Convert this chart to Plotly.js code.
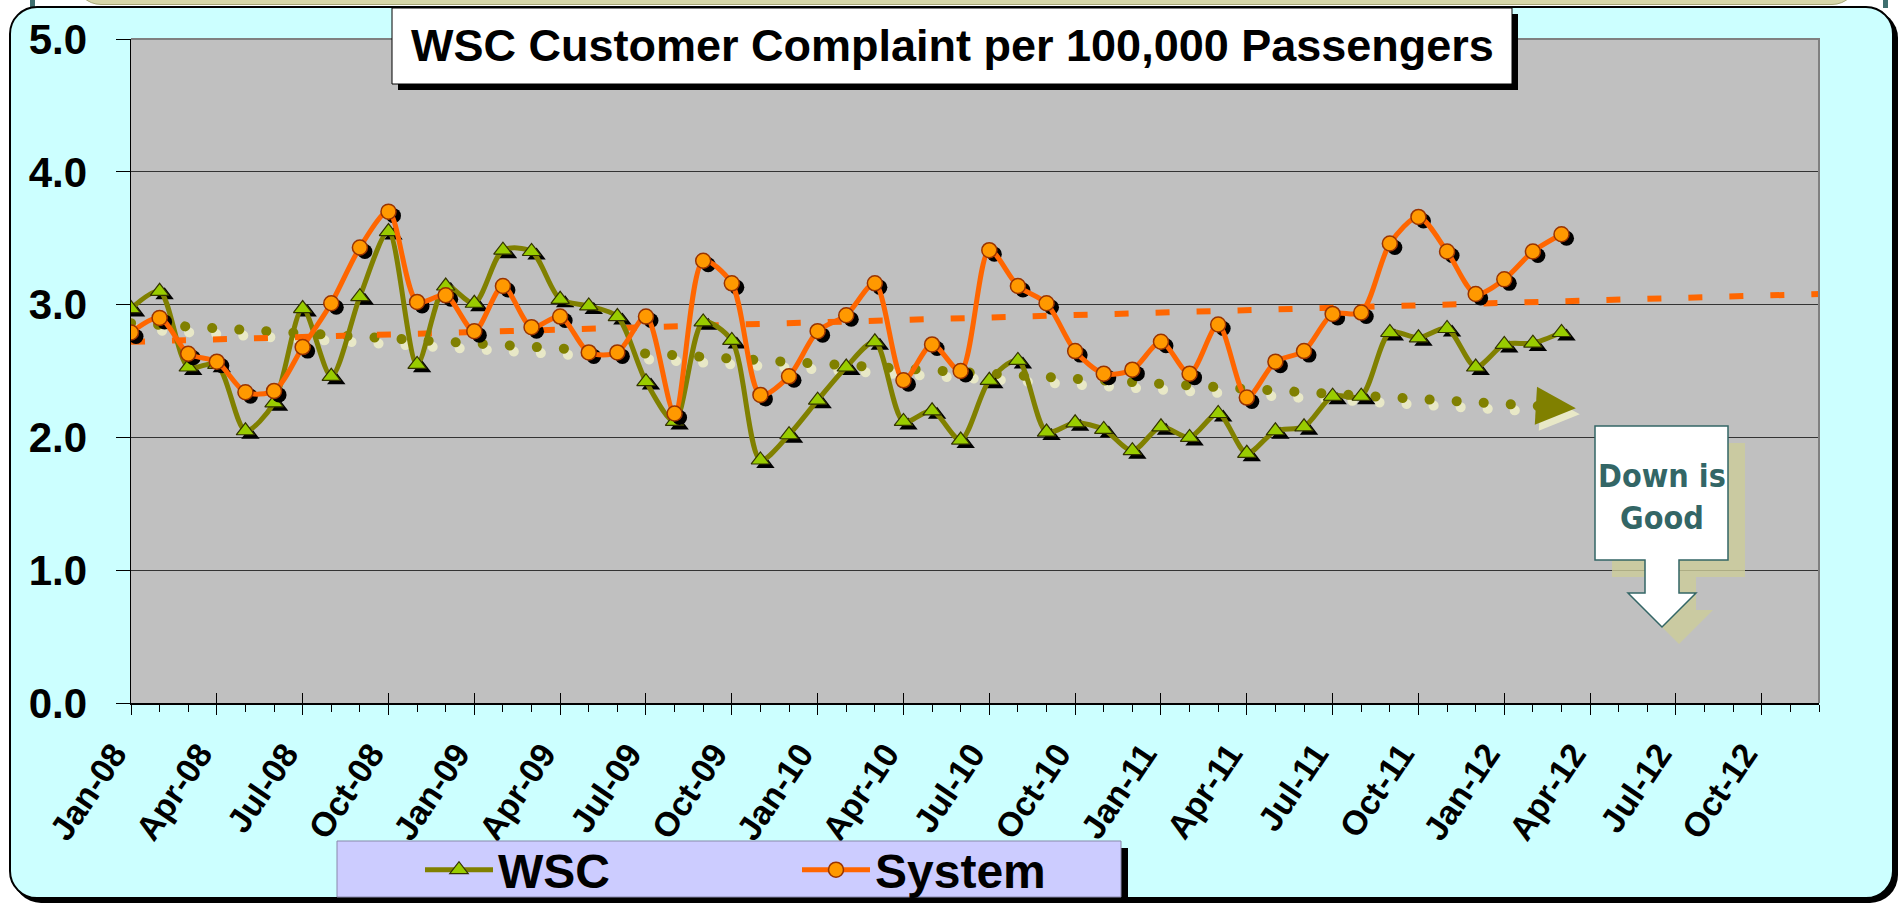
<!DOCTYPE html>
<html><head><meta charset="utf-8">
<script src="https://cdn.plot.ly/plotly-3.0.1.min.js"></script>
<style>
html,body{margin:0;padding:0;background:#fff;width:1901px;height:904px;overflow:hidden;}
#topbar{position:absolute;left:75px;top:-30px;width:1781px;height:33px;background:#D6D6A8;border:1px solid #A8A878;border-radius:0 0 26px 26px;}
#tealL{position:absolute;left:30px;top:0;width:5px;height:8px;background:#3F6F6F;}
#tealR{position:absolute;left:1883px;top:0;width:5px;height:8px;background:#3F6F6F;}
#frame{position:absolute;left:9px;top:6px;width:1881px;height:889px;background:#CCFFFF;border:2px solid #000;border-radius:28px;box-shadow:4px 4px 0 #000;}
#chart{position:absolute;left:0;top:0;width:1901px;height:904px;}
</style></head>
<body>
<div id="topbar"></div><div id="tealL"></div><div id="tealR"></div>
<div id="frame"></div>
<div id="chart"></div>
<script>
// ---- data ----
const months = ["Jan-08","Feb-08","Mar-08","Apr-08","May-08","Jun-08","Jul-08","Aug-08","Sep-08","Oct-08","Nov-08","Dec-08",
"Jan-09","Feb-09","Mar-09","Apr-09","May-09","Jun-09","Jul-09","Aug-09","Sep-09","Oct-09","Nov-09","Dec-09",
"Jan-10","Feb-10","Mar-10","Apr-10","May-10","Jun-10","Jul-10","Aug-10","Sep-10","Oct-10","Nov-10","Dec-10",
"Jan-11","Feb-11","Mar-11","Apr-11","May-11","Jun-11","Jul-11","Aug-11","Sep-11","Oct-11","Nov-11","Dec-11",
"Jan-12","Feb-12","Mar-12","Apr-12","May-12","Jun-12","Jul-12","Aug-12","Sep-12","Oct-12","Nov-12","Dec-12"];
const tickLabels = ["Jan-08","Apr-08","Jul-08","Oct-08","Jan-09","Apr-09","Jul-09","Oct-09","Jan-10","Apr-10","Jul-10","Oct-10",
"Jan-11","Apr-11","Jul-11","Oct-11","Jan-12","Apr-12","Jul-12","Oct-12"];
const wsc = [2.97,3.10,2.53,2.55,2.05,2.26,2.97,2.46,3.06,3.55,2.55,3.14,
3.01,3.41,3.40,3.04,2.99,2.91,2.42,2.12,2.87,2.73,1.83,2.02,
2.28,2.53,2.72,2.12,2.20,1.98,2.43,2.58,2.04,2.11,2.06,1.90,
2.08,2.00,2.18,1.88,2.05,2.08,2.31,2.31,2.79,2.75,2.82,2.53,
2.70,2.71,2.79];
const system = [2.79,2.90,2.63,2.57,2.34,2.35,2.68,3.01,3.43,3.70,3.02,3.07,
2.80,3.14,2.83,2.91,2.64,2.64,2.91,2.18,3.33,3.16,2.32,2.46,
2.80,2.92,3.16,2.43,2.70,2.50,3.41,3.14,3.01,2.65,2.48,2.51,
2.72,2.48,2.85,2.30,2.57,2.65,2.93,2.94,3.46,3.66,3.40,3.08,
3.19,3.40,3.53];
// trend lines (month index, value)
const wscTrendX = [0, 50.5];
const wscTrendY = [2.86, 2.22];
const sysTrendX = [0, 59];
const sysTrendY = [2.72, 3.08];

// ---- geometry ----
const W = 1901, H = 904;
const ML = 131, MR = 82, MT = 39, MB = 201;
const PW = W - ML - MR, PH = H - MT - MB;
const XMAX = months.length - 1;
const PXX = PW / XMAX, PXY = PH / 5;
const px = X => (X - ML) / PW;
const py = Y => (H - MB - Y) / PH;

const xData = wsc.map((_, i) => months.indexOf(months[i]));
const tickVals = tickLabels.map(t => months.indexOf(t));

const sdx = 5 / PXX, sdy = 4 / PXY;          // marker shadow offset
const tdx = 4 / PXX, tdy = 6 / PXY;          // trend shadow offset

// arrowhead for WSC trend
const tipX = wscTrendX[1], tipY = wscTrendY[1];
const vx = (wscTrendX[1] - wscTrendX[0]) * PXX, vy = -(wscTrendY[1] - wscTrendY[0]) * PXY;
const vl = Math.hypot(vx, vy), ux = vx / vl, uy = vy / vl;
const toData = (ox, oy) => [tipX + ox / PXX, tipY - oy / PXY];
const HL = 40, HW = 19;
const leftP = toData(-HL * ux - HW * uy, -HL * uy + HW * ux);
const rightP = toData(-HL * ux + HW * uy, -HL * uy - HW * ux);
const lineEnd = toData(-(HL - 4) * ux, -(HL - 4) * uy);
function triPath(dx, dy) {
  const p = [[tipX, tipY], leftP, rightP].map(q => (q[0] + dx) + ',' + (q[1] + dy));
  return 'M' + p[0] + ' L' + p[1] + ' L' + p[2] + ' Z';
}

function pathPx(pts) {
  return 'M' + pts.map(p => px(p[0]) + ',' + py(p[1])).join(' L') + ' Z';
}
const callout = [[1595,426],[1728,426],[1728,560],[1679,560],[1679,593],[1696,593],[1662,627],[1628,593],[1645,593],[1645,560],[1595,560]];
const calloutSh = callout.map(p => [p[0] + 17, p[1] + 17]);

const traces = [
  {x:[wscTrendX[0] + tdx, lineEnd[0] + tdx], y:[wscTrendY[0] - tdy, lineEnd[1] - tdy], mode:'lines', showlegend:false, hoverinfo:'skip',
   line:{color:'rgba(236,236,200,0.9)', width:10, dash:'0.1px,27px'}},
  {x:[wscTrendX[0], lineEnd[0]], y:[wscTrendY[0], lineEnd[1]], mode:'lines', showlegend:false, hoverinfo:'skip',
   line:{color:'#808000', width:10, dash:'0.1px,27px'}},
  {x:sysTrendX, y:sysTrendY, mode:'lines', showlegend:false, hoverinfo:'skip',
   line:{color:'#FF6600', width:6, dash:'14px,27px'}},
  {x:xData.map(v => v + sdx), y:wsc.map(v => v - sdy), mode:'markers', showlegend:false, hoverinfo:'skip',
   marker:{symbol:'triangle-up', size:16, color:'#000'}},
  {x:xData, y:wsc, name:'WSC', mode:'lines+markers',
   line:{color:'#808000', width:5, shape:'spline', smoothing:0.8},
   marker:{symbol:'triangle-up', size:16, color:'#99CC00', line:{color:'#333300', width:1.2}}},
  {x:xData.map(v => v + sdx), y:system.map(v => v - sdy), mode:'markers', showlegend:false, hoverinfo:'skip',
   marker:{symbol:'circle', size:15, color:'#000'}},
  {x:xData, y:system, name:'System', mode:'lines+markers',
   line:{color:'#FF6600', width:5, shape:'spline', smoothing:0.8},
   marker:{symbol:'circle', size:15, color:'#FF9900', line:{color:'#993300', width:1.5}}},
  {x:[], y:[], xaxis:'x2', yaxis:'y', showlegend:false}
];

const bold = {family:'"Liberation Sans", Arial, sans-serif', weight:'bold', color:'#000'};

const layout = {
  width:W, height:H,
  margin:{l:ML, r:MR, t:MT, b:MB, autoexpand:false},
  paper_bgcolor:'rgba(0,0,0,0)', plot_bgcolor:'#C0C0C0',
  font:{family:'"Liberation Sans", Arial, sans-serif', color:'#000'},
  xaxis:{type:'linear', range:[0, XMAX], tickmode:'array', tickvals:tickVals, ticktext:tickLabels, tickangle:-56,
    ticks:'outside', ticklen:10, tickwidth:1, tickcolor:'#000', showline:true, linecolor:'#000', linewidth:1.5,
    showgrid:false, zeroline:false, tickfont:Object.assign({size:34}, bold), ticklabelstandoff:6, ticklabelshift:-17,
    minor:{ticks:'outside', ticklen:7, tickmode:'linear', tick0:0, dtick:1, tickcolor:'#000', tickwidth:1, showgrid:false},
    fixedrange:true},
  xaxis2:{overlaying:'x', anchor:'y', type:'linear', range:[0, XMAX], tickmode:'array', tickvals:tickVals, ticks:'inside', ticklen:10,
    tickcolor:'#000', tickwidth:1, showticklabels:false, showgrid:false, zeroline:false, showline:false, fixedrange:true},
  yaxis:{range:[0,5], tick0:0, dtick:1, tickformat:'.1f', ticks:'outside', ticklen:14, tickwidth:1, tickcolor:'#000',
    showline:true, linecolor:'#000', linewidth:1.5, showgrid:true, gridcolor:'#333', gridwidth:1, zeroline:false,
    tickfont:Object.assign({size:42}, bold), ticklabelstandoff:20, fixedrange:true},
  showlegend:true,
  legend:{orientation:'h', x:px(420), y:py(870), xanchor:'left', yanchor:'middle', font:Object.assign({size:48}, bold),
    bgcolor:'rgba(0,0,0,0)', borderwidth:0, itemwidth:68, entrywidth:294, entrywidthmode:'pixels', traceorder:'normal'},
  shapes:[
    {type:'path', xref:'paper', yref:'paper', path:'M0,1 L1,1 L1,0', line:{color:'#808080', width:2}, layer:'above'},
    {type:'path', xref:'x', yref:'y', path:triPath(tdx, -tdy), fillcolor:'rgba(236,236,200,0.9)', line:{width:0}, layer:'above'},
    {type:'path', xref:'x', yref:'y', path:triPath(0, 0), fillcolor:'#808000', line:{width:0}, layer:'above'},
    {type:'rect', xref:'paper', yref:'paper', x0:px(398), x1:px(1518), y0:py(90), y1:py(14), fillcolor:'#000', line:{width:0}, layer:'above'},
    {type:'rect', xref:'paper', yref:'paper', x0:px(392), x1:px(1512), y0:py(84), y1:py(8), fillcolor:'#fff', line:{color:'#000', width:1}, layer:'above'},
    {type:'rect', xref:'paper', yref:'paper', x0:px(344), x1:px(1128), y0:py(903), y1:py(848), fillcolor:'#000', line:{width:0}, layer:'above'},
    {type:'rect', xref:'paper', yref:'paper', x0:px(337), x1:px(1121), y0:py(897), y1:py(841), fillcolor:'#CCCCFF', line:{color:'#8888AA', width:1}, layer:'above'},
    {type:'path', xref:'paper', yref:'paper', path:pathPx(calloutSh), fillcolor:'rgba(204,204,153,0.8)', line:{width:0}, layer:'above'},
    {type:'path', xref:'paper', yref:'paper', path:pathPx(callout), fillcolor:'#fff', line:{color:'#336666', width:1.5}, layer:'above'}
  ],
  annotations:[
    {xref:'paper', yref:'paper', x:px(952), y:py(45), xanchor:'center', yanchor:'middle', showarrow:false,
     text:'WSC Customer Complaint per 100,000 Passengers', font:Object.assign({size:45}, bold)},
    {xref:'paper', yref:'paper', x:px(1662), y:py(497), xanchor:'center', yanchor:'middle', showarrow:false,
     text:'Down is<br>Good', font:{family:'"DejaVu Sans Condensed", "Noto Sans", "DejaVu Sans", sans-serif', size:32, weight:'bold', color:'#336666'}}
  ]
};

Plotly.newPlot('chart', traces, layout, {displayModeBar:false, staticPlot:true}).then(() => {
  const tr = document.querySelectorAll('.scatterlayer .trace');
  [0, 1].forEach(i => { const l = tr[i] && tr[i].querySelector('.js-line'); if (l) l.style.strokeLinecap = 'round'; });
});
</script>
</body></html>
